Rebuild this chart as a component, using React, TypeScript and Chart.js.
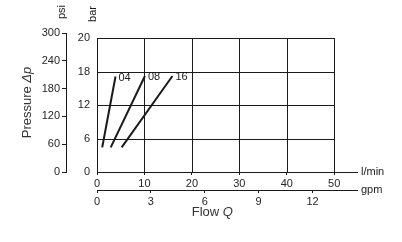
import React, { useEffect, useRef } from "react";
import { Chart, registerables } from "chart.js";

Chart.register(...registerables);

// ---- data ----
const seriesNames = ["04", "08", "16"];
const seriesFlow = [
  [1.1, 3.9],
  [2.9, 10.1],
  [5.2, 15.9],
];
const seriesPressure = [
  [4.4, 17.1],
  [4.4, 17.2],
  [4.4, 17.2],
];
const flowTicks = [0, 10, 20, 30, 40, 50];
const gpmTicks = [0, 3, 6, 9, 12];
const barTicks = [0, 6, 12, 18, 24];
const barTickLabels = ["0", "6", "12", "18", "20"];
const psiTicks = [0, 60, 120, 180, 240, 300];

const FONT = "'Liberation Sans Narrow', 'Liberation Sans', Arial, sans-serif";
const FONT_TITLE = "'Liberation Sans', Arial, sans-serif";
const INK = "#1a1a1a";
const LABEL = "#262626";

const FLOW_MAX = 54.8;
const GPM_FACTOR = 3.785;
const BAR_MAX = 24.9;

const overlayPlugin = {
  id: "overlay",
  beforeDatasetsDraw(chart: any) {
    const { ctx, scales } = chart;
    const x = scales.x;
    const y = scales.bar;
    const x0 = x.getPixelForValue(0);
    const x1 = x.getPixelForValue(50);
    const y0 = y.getPixelForValue(0);
    const y1 = y.getPixelForValue(24);
    ctx.save();
    ctx.strokeStyle = INK;
    ctx.lineWidth = 1;
    barTicks.forEach((v) => {
      if (v === 0) return;
      const py = Math.round(y.getPixelForValue(v)) + 0.5;
      ctx.beginPath();
      ctx.moveTo(x0, py);
      ctx.lineTo(x1, py);
      ctx.stroke();
    });
    flowTicks.forEach((v) => {
      const px = Math.round(x.getPixelForValue(v)) + 0.5;
      ctx.beginPath();
      ctx.moveTo(px, y1);
      ctx.lineTo(px, y0);
      ctx.stroke();
    });
    ctx.restore();
  },
  afterDraw(chart: any) {
    const { ctx, scales, chartArea } = chart;
    const x = scales.x;
    const g = scales.gpm;
    const psi = scales.psi;
    const bar = scales.bar;
    ctx.save();
    // series labels
    ctx.fillStyle = INK;
    ctx.font = `11px ${FONT}`;
    ctx.textAlign = "left";
    ctx.textBaseline = "middle";
    seriesNames.forEach((n, i) => {
      const px = x.getPixelForValue(seriesFlow[i][1]);
      const py = bar.getPixelForValue(seriesPressure[i][1]);
      ctx.fillText(n, px + 3, py + 1);
    });
    // unit labels on right
    ctx.font = `11px ${FONT}`;
    ctx.fillText("l/min", chartArea.right + 4, x.top);
    ctx.fillText("gpm", chartArea.right + 4, g.top);
    // rotated unit labels at top
    const rot = (t: string, cx: number, cy: number, font: string) => {
      ctx.save();
      ctx.translate(cx, cy);
      ctx.rotate(-Math.PI / 2);
      ctx.font = font;
      ctx.textAlign = "center";
      ctx.textBaseline = "middle";
      ctx.fillText(t, 0, 0);
      ctx.restore();
    };
    rot("psi", psi.right - 4, 12, `11px ${FONT}`);
    rot("bar", bar.right - 4, 14, `11px ${FONT}`);
    // y title
    ctx.fillStyle = "#333";
    ctx.save();
    const cy = (chartArea.top + chartArea.bottom) / 2;
    ctx.translate(27, cy);
    ctx.rotate(-Math.PI / 2);
    ctx.textBaseline = "middle";
    ctx.textAlign = "left";
    const fN = `13px ${FONT_TITLE}`;
    const fI = `italic 13px ${FONT_TITLE}`;
    ctx.font = fN;
    const w1 = ctx.measureText("Pressure ").width;
    ctx.font = fI;
    const w2 = ctx.measureText("Δp").width;
    const start = -(w1 + w2) / 2;
    ctx.font = fN;
    ctx.fillText("Pressure ", start, 0);
    ctx.font = fI;
    ctx.fillText("Δp", start + w1, 0);
    ctx.restore();
    // x title
    ctx.textBaseline = "middle";
    ctx.textAlign = "left";
    ctx.font = fN;
    const v1 = ctx.measureText("Flow ").width;
    ctx.font = fI;
    const v2 = ctx.measureText("Q").width;
    const cx = x.getPixelForValue(24.3);
    const sx = cx - (v1 + v2) / 2;
    ctx.font = fN;
    ctx.fillText("Flow ", sx, 212);
    ctx.font = fI;
    ctx.fillText("Q", sx + v1, 212);
    ctx.restore();
  },
};

export default function App() {
  const ref = useRef<HTMLCanvasElement | null>(null);
  useEffect(() => {
    if (!ref.current) return;
    const datasets = seriesNames.map((n, i) => ({
      label: n,
      data: seriesFlow[i].map((fx, j) => ({ x: fx, y: seriesPressure[i][j] })),
      borderColor: INK,
      borderWidth: 2,
      pointRadius: 0,
      fill: false,
      xAxisID: "x",
      yAxisID: "bar",
    }));
    const tickFont = { family: FONT, size: 11 };
    const chart = new Chart(ref.current, {
      type: "line",
      data: { datasets },
      plugins: [overlayPlugin],
      options: {
        animation: false,
        responsive: false,
        maintainAspectRatio: false,
        layout: { padding: { left: 0, right: 45, top: 33, bottom: 0 } },
        plugins: { legend: { display: false }, tooltip: { enabled: false } },
        scales: {
          x: {
            type: "linear",
            position: "bottom",
            weight: 0,
            min: 0,
            max: FLOW_MAX,
            afterBuildTicks: (s: any) => {
              s.ticks = flowTicks.map((v) => ({ value: v }));
            },
            afterFit: (s: any) => {
              s.height = 18;
            },
            ticks: { font: tickFont, color: LABEL, padding: 2, maxRotation: 0, autoSkip: false },
            grid: { display: true, drawOnChartArea: false, drawTicks: true, tickLength: 3, color: INK },
            border: { display: true, color: INK, width: 1 },
          },
          gpm: {
            type: "linear",
            position: "bottom",
            weight: 1,
            min: 0,
            max: FLOW_MAX / GPM_FACTOR,
            afterBuildTicks: (s: any) => {
              s.ticks = gpmTicks.map((v) => ({ value: v }));
            },
            afterFit: (s: any) => {
              s.height = 52;
            },
            ticks: { font: tickFont, color: LABEL, padding: 2, maxRotation: 0, autoSkip: false },
            grid: { display: true, drawOnChartArea: false, drawTicks: true, tickLength: 3, color: INK },
            border: { display: true, color: INK, width: 1 },
          },
          bar: {
            type: "linear",
            position: "left",
            weight: 0,
            min: 0,
            max: BAR_MAX,
            afterBuildTicks: (s: any) => {
              s.ticks = barTicks.map((v) => ({ value: v }));
            },
            afterFit: (s: any) => {
              s.width = 31;
            },
            ticks: {
              font: tickFont,
              color: LABEL,
              padding: 7,
              autoSkip: false,
              callback: (v: any) => {
                const i = barTicks.indexOf(Number(v));
                return i >= 0 ? barTickLabels[i] : "";
              },
            },
            grid: { display: false, drawTicks: false },
            border: { display: false },
          },
          psi: {
            type: "linear",
            position: "left",
            weight: 1,
            min: 0,
            max: 300,
            afterBuildTicks: (s: any) => {
              s.ticks = psiTicks.map((v) => ({ value: v }));
            },
            afterFit: (s: any) => {
              s.width = 66;
            },
            ticks: { font: tickFont, color: LABEL, padding: 2, autoSkip: false },
            grid: { display: true, drawOnChartArea: false, drawTicks: true, tickLength: 4, color: INK },
            border: { display: true, color: INK, width: 1 },
          },
        },
      } as any,
    });
    return () => chart.destroy();
  }, []);
  return (
    <div style={{ position: "fixed", left: 0, top: 0, width: 402, height: 242, background: "#fff" }}>
      <canvas ref={ref} width={402} height={242} style={{ width: 402, height: 242 }} />
    </div>
  );
}
